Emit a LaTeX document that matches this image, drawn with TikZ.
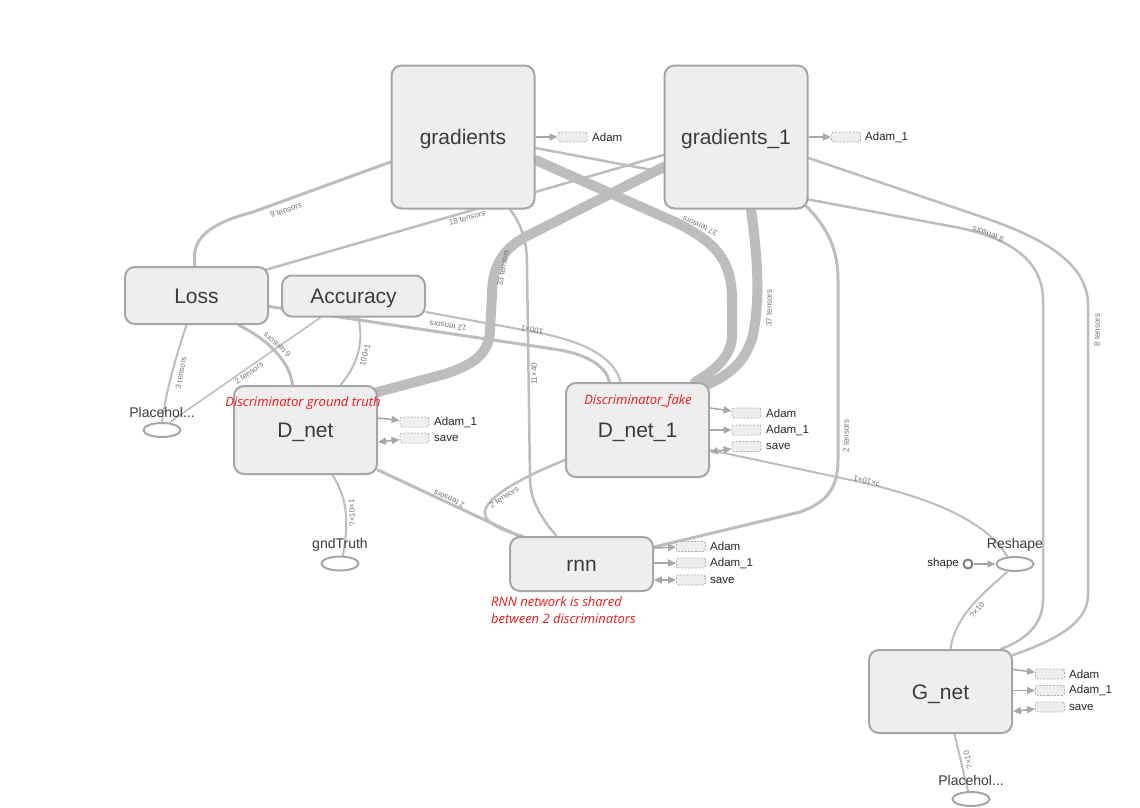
\documentclass[tikz,border=0pt]{standalone}
\usepackage{fontspec}
\setmainfont{Liberation Sans}
\newfontfamily\annfont{Open Sans}
\usetikzlibrary{shapes.geometric,arrows.meta}
\definecolor{boxfill}{HTML}{EEEEEE}
\definecolor{boxdraw}{HTML}{A6A6A6}
\definecolor{edgec}{HTML}{BDBDBD}
\definecolor{txtc}{HTML}{3C3C3C}
\definecolor{lblc}{HTML}{777777}
\definecolor{auxdraw}{HTML}{B0B0B0}
\definecolor{arrc}{HTML}{A8A8A8}
\definecolor{annred}{HTML}{F01818}
\pgfdeclarelayer{bg}
\pgfdeclarelayer{edges}
\pgfsetlayers{bg,edges,main}
\tikzset{
  op/.style={draw=boxdraw, fill=boxfill, line width=2pt, rounded corners=10pt,
    font=\fontsize{21}{25}\selectfont, text=txtc, inner sep=0pt, minimum width=143pt,
    text height=15.5pt, text depth=0pt},
  phold/.style={ellipse, draw=boxdraw, fill=white, line width=2pt, minimum width=37pt,
    minimum height=14pt, inner sep=0pt},
  phlbl/.style={font=\fontsize{14}{16}\selectfont, text=txtc, inner sep=0pt},
  auxbox/.style={draw=auxdraw, dash pattern=on 2pt off 1.5pt, fill=boxfill, rounded corners=2.5pt, line width=0.9pt,
    minimum width=29pt, minimum height=10pt, inner sep=0pt},
  auxlbl/.style={font=\fontsize{11.5}{13}\selectfont, text=black!85, inner sep=0pt, anchor=west},
  auxarr/.style={-{Triangle[length=8pt,width=7pt]}, draw=arrc, fill=arrc, line width=1.5pt},
  auxbi/.style={{Triangle[length=8pt,width=7pt]}-{Triangle[length=8pt,width=7pt]}, draw=arrc, fill=arrc, line width=1.5pt},
  edge/.style={draw=edgec, line width=#1, line cap=round},
  edge/.default=2.5pt,
  elbl/.style={font=\fontsize{8}{9}\selectfont, text=lblc, inner sep=0pt},
  ann/.style={font=\annfont\itshape\fontsize{13}{15}\selectfont, text=annred, inner sep=0pt},
}
\begin{document}
\begin{tikzpicture}[x=1pt,y=-1pt]
\begin{pgfonlayer}{bg}
\fill[white] (0,0) rectangle (1140,807);
\end{pgfonlayer}
\useasboundingbox (0,0) rectangle (1140,807);

% ---- main op nodes
\node[op, minimum height=143pt] (grad) at (463,137) {gradients};
\node[op, minimum height=143pt] (grad1) at (736,137) {gradients\_1};
\node[op, minimum height=57pt] (loss) at (196.5,295.5) {Loss};
\node[op, minimum height=41pt] (acc) at (353.5,296) {Accuracy};
\node[op, minimum height=88pt] (dnet) at (305.5,430) {D\_net};
\node[op, minimum height=94pt] (dnet1) at (637.5,430) {D\_net\_1};
\node[op, minimum height=54pt] (rnn) at (581.5,564) {rnn};
\node[op, minimum height=83pt] (gnet) at (940.5,691.5) {G\_net};

% ---- placeholders
\node[phold] (ph1) at (162,430) {};
\node[phlbl] (ph1l) at (162,412) {Placehol...};
\node[phold] (gnd) at (340,563.5) {};
\node[phlbl] (gndl) at (340,545) {gndTruth};
\node[phold] (resh) at (1015,564) {};
\node[phlbl] (reshl) at (1015,545) {Reshape};
\node[phold] (ph2) at (971,799) {};
\node[phlbl] (ph2l) at (971,780) {Placehol...};
\node[circle, draw=black!50, fill=white, line width=2pt, minimum size=9pt, inner sep=0pt] (shp) at (968,564) {};
\node[auxlbl, anchor=east] (shpl) at (959,564) {shape};

% ---- auxiliary (dashed) nodes
\node[auxbox] (gA) at (572.5,137) {};
\node[auxlbl] (gAl) at (592,137) {Adam};
\node[auxbox] (g1A) at (846,137) {};
\node[auxlbl] (g1Al) at (865,137) {Adam\_1};
\node[auxbox] (dA1) at (414.5,422) {};
\node[auxlbl] (dA1l) at (434,422) {Adam\_1};
\node[auxbox] (dS) at (414.5,438) {};
\node[auxlbl] (dSl) at (434,438) {save};
\node[auxbox] (d1A) at (746.5,413) {};
\node[auxlbl] (d1Al) at (766,413) {Adam};
\node[auxbox] (d1A1) at (746.5,430) {};
\node[auxlbl] (d1A1l) at (766,430) {Adam\_1};
\node[auxbox] (d1S) at (746.5,446.5) {};
\node[auxlbl] (d1Sl) at (766,446.5) {save};
\node[auxbox] (rA) at (691,546.5) {};
\node[auxlbl] (rAl) at (710,546.5) {Adam};
\node[auxbox] (rA1) at (691,563) {};
\node[auxlbl] (rA1l) at (710,563) {Adam\_1};
\node[auxbox] (rS) at (691,580) {};
\node[auxlbl] (rSl) at (710,580) {save};
\node[auxbox] (nA) at (1050,674) {};
\node[auxlbl] (nAl) at (1069,674) {Adam};
\node[auxbox] (nA1) at (1050,690.5) {};
\node[auxlbl] (nA1l) at (1069,690.5) {Adam\_1};
\node[auxbox] (nS) at (1050,707) {};
\node[auxlbl] (nSl) at (1069,707) {save};

% ---- red annotations
\node[ann] (annG) at (303,403) {Discriminator ground truth};
\node[ann] (annF) at (638,401) {Discriminator\_fake};
\node[ann, anchor=west] (annR1) at (491,602) {RNN network is shared};
\node[ann, anchor=west] (annR2) at (491,619) {between 2 discriminators};

% ---- edges (behind nodes)
\begin{pgfonlayer}{edges}
% Loss - gradients
\draw[edge=3pt] ([xshift=-2pt]loss.north) -- (194.5,257) .. controls (194.5,235) and (215,222) .. (253,212) -- ([yshift=-25pt]grad.west);
% Loss - gradients_1
\draw[edge=2.5pt] ([xshift=-4pt,yshift=-4pt]loss.north east) -- ([yshift=-18pt]grad1.west);
% gradients - D_net_1 (thick)
\draw[edge=10pt] ([yshift=-23pt]grad.east) -- (675,222) .. controls (718,243) and (732,262) .. (732,300) -- (732,335) .. controls (732,358) and (712,372) .. ([xshift=-15pt]dnet1.north east);
% gradients_1 - D_net (thick)
\draw[edge=10pt] ([yshift=-30pt]grad1.west) -- (525,237) .. controls (500,251) and (492,270) .. (492,295) -- (490,330) .. controls (489,355) and (472,365) .. (445,374) -- ([xshift=-4pt,yshift=-8pt]dnet.north east);
% gradients_1 - D_net_1 (thick)
\draw[edge=10pt] ([xshift=15pt]grad1.south) .. controls (758,260) and (760,300) .. (753,335) .. controls (746,362) and (728,376) .. ([xshift=-4pt,yshift=-3pt]dnet1.north east);
% gradients - rnn
\draw[edge=2.5pt] ([xshift=47pt]grad.south) .. controls (522,225) and (527,242) .. (527,265) -- (530,480) .. controls (531,505) and (545,522) .. ([xshift=-25pt]rnn.north);
% gradients_1 - rnn
\draw[edge=3pt] ([xshift=-2pt,yshift=3pt]grad1.south east) .. controls (828,228) and (838,250) .. (838,280) -- (838,460) .. controls (838,490) and (825,503) .. (800,512) -- ([yshift=-11pt]rnn.north east);
% gradients - G_net (behind gradients_1)
\draw[edge=2.5pt] ([yshift=-11pt]grad.east) -- (960,228) .. controls (1012,239) and (1043,262) .. (1043,300) -- (1043,600) .. controls (1043,625) and (1025,640) .. ([xshift=-12pt]gnet.north east);
% gradients_1 - G_net
\draw[edge=2.5pt] ([yshift=-21pt]grad1.east) -- (985,218) .. controls (1040,237) and (1088,262) .. (1088,305) -- (1088,595) .. controls (1088,625) and (1050,642) .. ([yshift=-6pt]gnet.north east);
% Loss - Placeholder
\draw[edge=2pt] ([xshift=-10pt]loss.south) .. controls (178,350) and (166,390) .. (ph1.north);
% Accuracy - Placeholder
\draw[edge=1.5pt] ([xshift=-33pt]acc.south) -- ([xshift=8pt]ph1.north);
% Loss - D_net
\draw[edge=3pt] ([xshift=42pt]loss.south) .. controls (265,338) and (290,360) .. ([xshift=-13pt]dnet.north);
% Accuracy - D_net
\draw[edge=2pt] ([xshift=5pt]acc.south) .. controls (363,340) and (360,362) .. ([xshift=35pt]dnet.north);
% Loss - D_net_1
\draw[edge=3pt] ([yshift=-11pt]loss.east) -- (560,350) .. controls (592,356) and (606,368) .. ([xshift=-28pt]dnet1.north);
% Accuracy - D_net_1
\draw[edge=2pt] ([yshift=-16pt]acc.east) -- (540,333) .. controls (590,343) and (615,360) .. ([xshift=-17pt]dnet1.north);
% D_net - rnn
\draw[edge=3pt] ([yshift=-40pt]dnet.east) -- ([xshift=10pt]rnn.north west);
% D_net_1 - rnn
\draw[edge=2.5pt] ([yshift=-30pt]dnet1.west) .. controls (520,478) and (468,505) .. (490,522) .. controls (497,528) and (510,533) .. ([xshift=14pt]rnn.north west);
% D_net - gndTruth
\draw[edge=2pt] ([xshift=27pt]dnet.south) .. controls (345,495) and (350,515) .. ([xshift=3pt]gnd.north);
% Reshape - D_net_1
\draw[edge=2pt] ([yshift=-20pt]dnet1.east) -- (860,482) .. controls (930,498) and (985,520) .. ([xshift=-8pt]resh.north);
% Reshape - G_net
\draw[edge=2pt] ([xshift=-8pt]resh.south) .. controls (985,592) and (955,615) .. ([xshift=10pt]gnet.north);
% G_net - Placeholder
\draw[edge=2pt] ([xshift=14pt]gnet.south) -- ([xshift=-3pt]ph2.north);
\end{pgfonlayer}

% ---- auxiliary arrows
\draw[auxarr] (shp) -- (resh);
\draw[auxarr] (grad.east) -- (gA);
\draw[auxarr] (grad1.east) -- (g1A);
\draw[auxarr] ([yshift=12pt]dnet.east) -- (dA1);
\draw[auxbi] ([yshift=-12pt]dnet.east) -- (dS);
\draw[auxarr] ([yshift=22pt]dnet1.east) -- (d1A);
\draw[auxarr] (dnet1.east) -- (d1A1);
\draw[auxbi] ([yshift=-22pt]dnet1.east) -- (d1S);
\draw[auxarr] ([yshift=16pt]rnn.east) -- (rA);
\draw[auxarr] ([yshift=1pt]rnn.east) -- (rA1);
\draw[auxbi] ([yshift=-16pt]rnn.east) -- (rS);
\draw[auxarr] ([yshift=22pt]gnet.east) -- (nA);
\draw[auxarr] ([yshift=1pt]gnet.east) -- (nA1);
\draw[auxbi] ([yshift=-20pt]gnet.east) -- (nS);

% ---- edge labels
\node[elbl, rotate=19] (e1) at (286,210) {9 tensors};
\node[elbl, rotate=16] (e2) at (467,218) {18 tensors};
\node[elbl, rotate=155] (e3) at (700,226) {37 tensors};
\node[elbl, rotate=80] (e4) at (503,268) {33 tensors};
\node[elbl, rotate=90] (e5) at (769,308) {37 tensors};
\node[elbl, rotate=90] (e6) at (534,374) {11×40};
\node[elbl, rotate=90] (e7) at (846,436) {2 tensors};
\node[elbl, rotate=160] (e8) at (988,234) {8 tensors};
\node[elbl, rotate=90] (e9) at (1097,330) {8 tensors};
\node[elbl, rotate=80] (e10) at (181,373) {3 tensors};
\node[elbl, rotate=36] (e11) at (249,373) {2 tensors};
\node[elbl, rotate=140] (e12) at (277,345) {6 tensors};
\node[elbl, rotate=75] (e13) at (365,355) {100×1};
\node[elbl, rotate=172] (e14) at (448,326) {12 tensors};
\node[elbl, rotate=170] (e15) at (532,330) {100×1};
\node[elbl, rotate=155] (e16) at (449,499) {2 tensors};
\node[elbl, rotate=32] (e17) at (504,497) {2 tensors};
\node[elbl, rotate=93] (e18) at (352,513) {?×10×1};
\node[elbl, rotate=168] (e19) at (867,481) {?×10×1};
\node[elbl, rotate=50] (e20) at (977,610) {?×10};
\node[elbl, rotate=103] (e21) at (968,760) {?×10};
\end{tikzpicture}
\end{document}
